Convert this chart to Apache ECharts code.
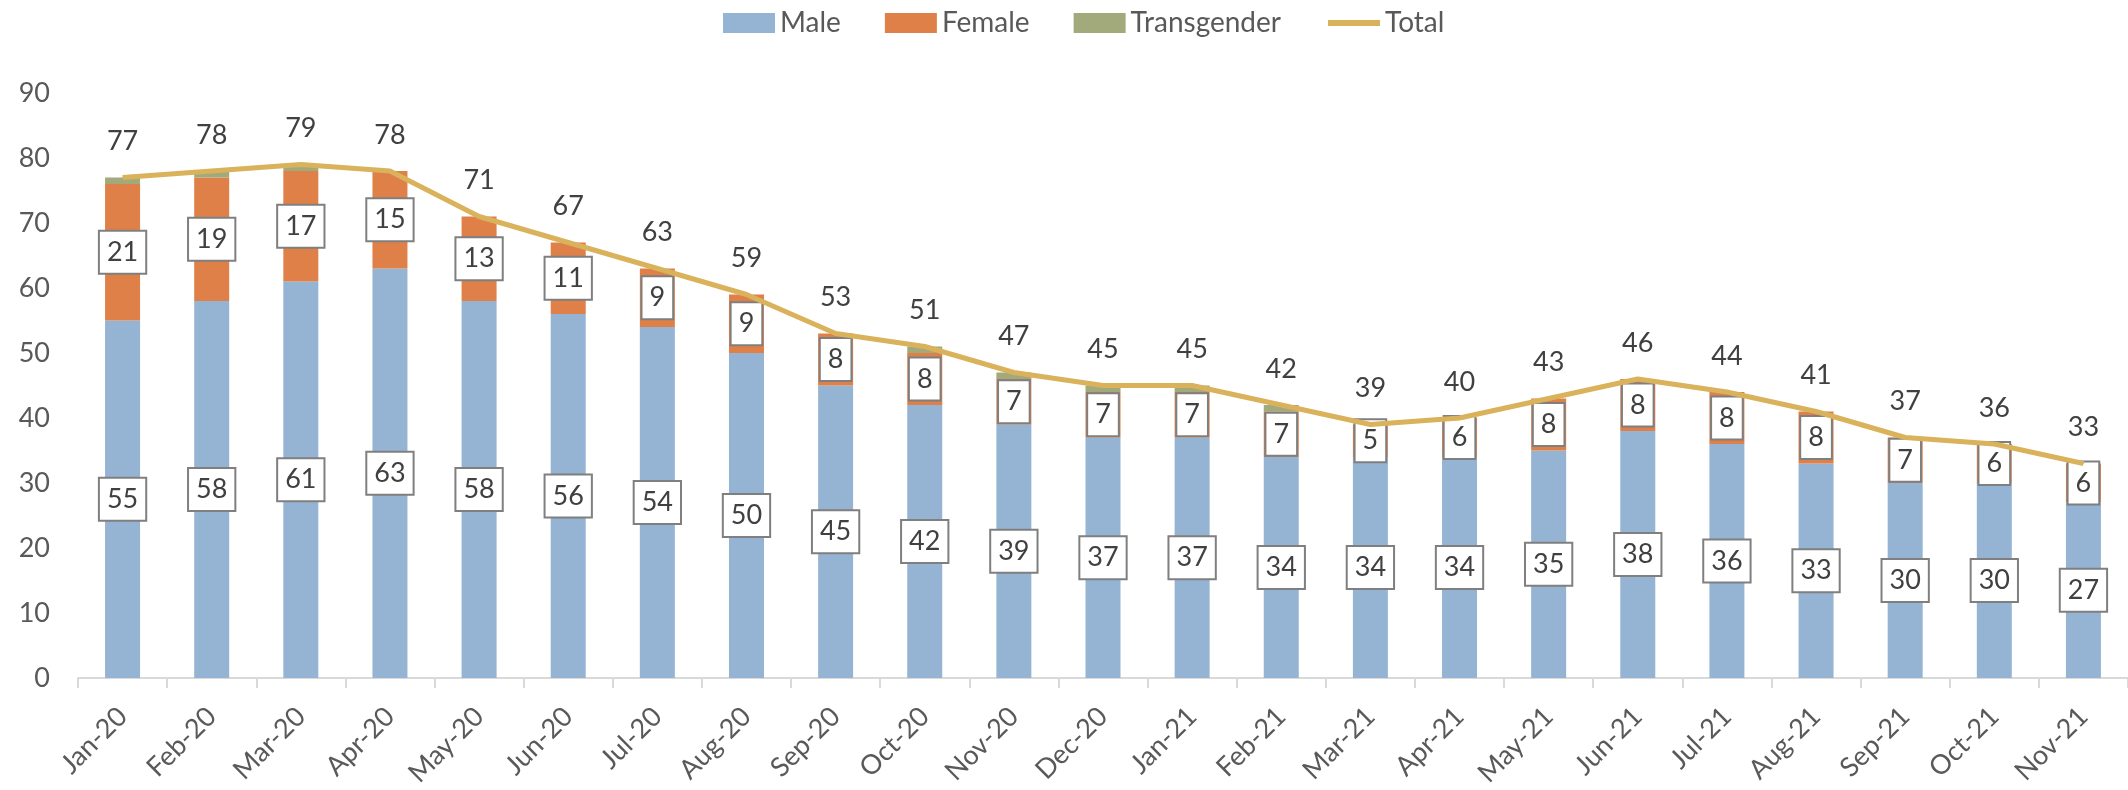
<!DOCTYPE html>
<html>
<head>
<meta charset="utf-8">
<script src="https://cdn.jsdelivr.net/npm/echarts@6/dist/echarts.min.js"></script>
<style>
html,body{margin:0;padding:0;background:#fff;}
#chart{width:2128px;height:790px;}
</style>
</head>
<body>
<div id="chart"></div>
<script>
const months = ['Jan-20','Feb-20','Mar-20','Apr-20','May-20','Jun-20','Jul-20','Aug-20','Sep-20','Oct-20','Nov-20','Dec-20','Jan-21','Feb-21','Mar-21','Apr-21','May-21','Jun-21','Jul-21','Aug-21','Sep-21','Oct-21','Nov-21'];
const male = [55,58,61,63,58,56,54,50,45,42,39,37,37,34,34,34,35,38,36,33,30,30,27];
const female = [21,19,17,15,13,11,9,9,8,8,7,7,7,7,5,6,8,8,8,8,7,6,6];
const transgender = [1,1,1,0,0,0,0,0,0,1,1,1,1,1,0,0,0,0,0,0,0,0,0];
const total = [77,78,79,78,71,67,63,59,53,51,47,45,45,42,39,40,43,46,44,41,37,36,33];
const yTicks = {min:0, max:90, interval:10};

const FONT = 'Lato';
const LINE_COLOR = '#D9B25B';
const boxLabel = {
  show: true,
  position: 'inside',
  color: '#404040',
  fontFamily: FONT,
  fontSize: 27,
  lineHeight: 27,
  backgroundColor: '#ffffff',
  borderColor: '#7f7f7f',
  borderWidth: 2,
  padding: [8, 7, 6, 7]
};

const chart = echarts.init(document.getElementById('chart'), null, {renderer:'canvas'});
chart.setOption({
  animation: false,
  textStyle: {fontFamily: FONT},
  legend: {
    top: 4,
    left: 718,
    itemGap: 44,
    itemWidth: 52,
    itemHeight: 20,
    textStyle: {fontSize: 28, color: '#595959', fontFamily: FONT},
    data: [
      {name:'Male', icon:'rect'},
      {name:'Female', icon:'rect'},
      {name:'Transgender', icon:'rect'},
      {name:'Total', itemStyle:{color:'rgba(0,0,0,0)', borderWidth:0}, lineStyle:{width:6, color: LINE_COLOR}}
    ]
  },
  grid: {left: 78, right: 0, top: 93, bottom: 112, containLabel: false},
  xAxis: {
    type: 'category',
    data: months,
    boundaryGap: true,
    axisLine: {show: true, lineStyle: {color: '#d9d9d9', width: 2}},
    axisTick: {show: true, length: 10, lineStyle: {color: '#d9d9d9', width: 2}},
    axisLabel: {rotate: 45, fontSize: 27, color: '#595959', fontFamily: FONT, margin: 34, interval: 0}
  },
  yAxis: {
    type: 'value',
    min: yTicks.min, max: yTicks.max, interval: yTicks.interval,
    splitLine: {show: false},
    axisLine: {show: false},
    axisTick: {show: false},
    axisLabel: {fontSize: 27, color: '#595959', fontFamily: FONT, margin: 28}
  },
  series: [
    {name:'Male', type:'bar', stack:'s', data: male, barWidth: 35,
     itemStyle:{color:'#95B3D3'}, label: boxLabel, z: 2},
    {name:'Female', type:'bar', stack:'s', data: female, barWidth: 35,
     itemStyle:{color:'#DE8047'}, label: boxLabel, z: 2},
    {name:'Transgender', type:'bar', stack:'s', data: transgender, barWidth: 35,
     itemStyle:{color:'#A2AA7C'}, z: 2},
    {name:'Total', type:'line', data: total, symbol:'circle', symbolSize: 1, showSymbol: true, z: 5,
     lineStyle:{color: LINE_COLOR, width: 5}, itemStyle:{color: LINE_COLOR},
     label:{show:true, position:'top', distance: 22, fontSize: 27, color:'#404040', fontFamily: FONT}}
  ]
});
</script>
</body>
</html>
